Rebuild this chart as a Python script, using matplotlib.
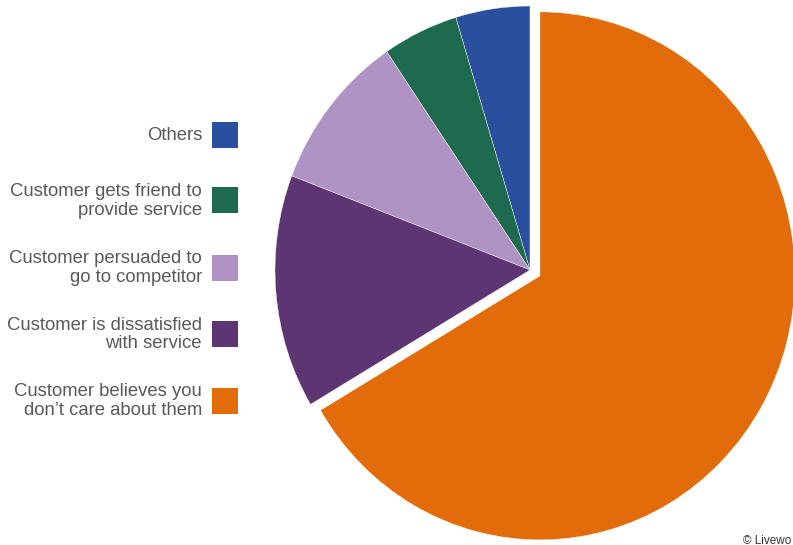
import matplotlib.pyplot as plt
from matplotlib.patches import Rectangle

plt.rcParams['font.family'] = ['Liberation Sans', 'DejaVu Sans']

# datos del grafico (orden: desde las 12 en sentido antihorario)
etiquetas = [
    'Others',
    'Customer gets friend to\nprovide service',
    'Customer persuaded to\ngo to competitor',
    'Customer is dissatisfied\nwith service',
    'Customer believes you\ndon\u2019t care about them',
]
valores = [4.7, 4.8, 9.7, 14.3, 66.5]
colores = ['#2A4F9E', '#1E6A4E', '#B093C5', '#5D3573', '#E36C0A']
separacion = [0, 0, 0, 0, 0.045]

W, H = 793, 545
fig = plt.figure(figsize=(W / 100, H / 100), dpi=100)
ax = fig.add_axes([0, 0, 1, 1])

ax.pie(valores, colors=colores, startangle=90, counterclock=True,
       explode=separacion, radius=1,
       wedgeprops=dict(edgecolor='white', linewidth=0.3))

# centro del pastel en (530, 270) px, radios 255 x 264 px
cx, cy, rx, ry = 530, 270, 255, 264
ax.set_aspect('auto')
ax.set_xlim(-cx / rx, (W - cx) / rx)
ax.set_ylim(-(H - cy) / ry, cy / ry)
ax.axis('off')

# leyenda a la izquierda, texto alineado a la derecha
centros_y = [134.5, 200.5, 267.5, 334, 400.7]
for lab, col, yc in zip(etiquetas, colores, centros_y):
    fig.text(202 / W, 1 - (yc + 0.5) / H, lab, ha='right', va='center',
             multialignment='right', fontsize=13.3, color='#595959',
             linespacing=1.15)
    fig.patches.append(Rectangle((212 / W, 1 - (yc + 13) / H), 26 / W, 26 / H,
                                 transform=fig.transFigure, facecolor=col,
                                 edgecolor='none'))

fig.text(743 / W, 1.5 / H, '\u00a9 Livewo', ha='left', va='baseline',
         fontsize=8.5, color='#333333')

fig.savefig('out.png', dpi=100)
